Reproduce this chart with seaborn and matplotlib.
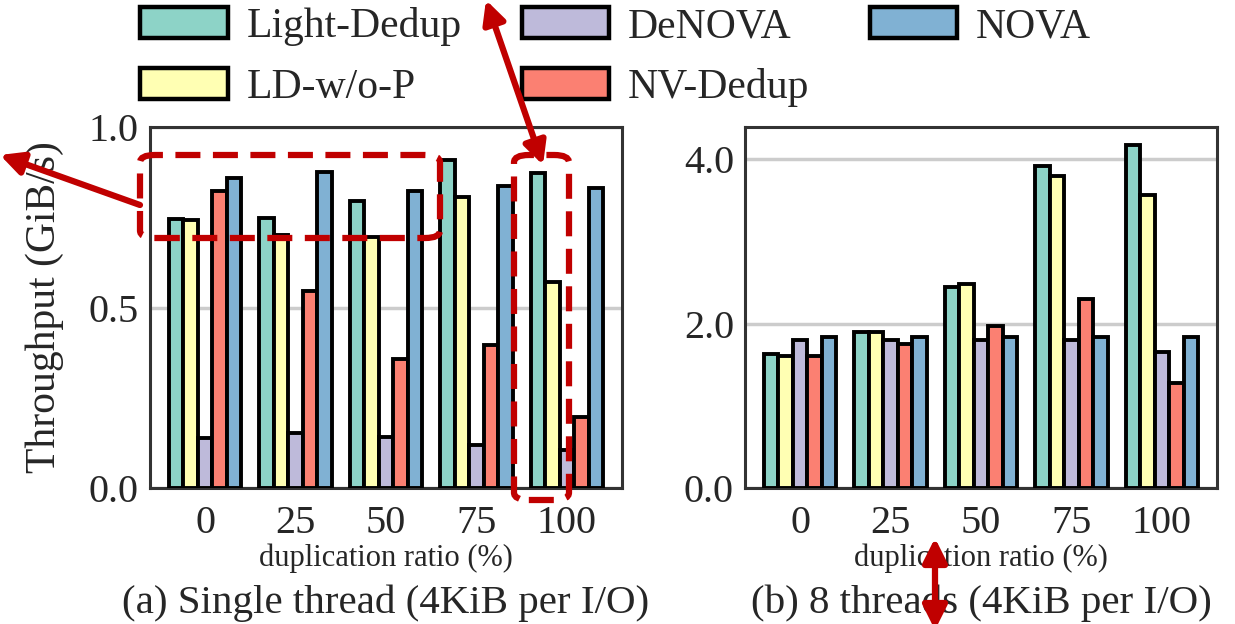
import matplotlib
matplotlib.use("Agg")
import matplotlib.pyplot as plt
import seaborn as sns
import pandas as pd
from matplotlib.patches import FancyBboxPatch, FancyArrowPatch, Patch

# ---- data ----
ratios = ["0", "25", "50", "75", "100"]
systems = ["Light-Dedup", "LD-w/o-P", "DeNOVA", "NV-Dedup", "NOVA"]
colors = ["#8dd3c7", "#ffffb3", "#bebada", "#fb8072", "#80b1d3"]

single_light_dedup = [0.745, 0.748, 0.796, 0.909, 0.873]
single_ld_wo_p = [0.742, 0.700, 0.695, 0.807, 0.572]
single_denova = [0.139, 0.152, 0.141, 0.119, 0.105]
single_nv_dedup = [0.823, 0.546, 0.356, 0.395, 0.196]
single_nova = [0.859, 0.875, 0.823, 0.837, 0.830]

multi_light_dedup = [1.63, 1.90, 2.44, 3.91, 4.17]
multi_ld_wo_p = [1.61, 1.90, 2.48, 3.80, 3.56]
multi_denova = [1.80, 1.80, 1.80, 1.80, 1.65]
multi_nv_dedup = [1.61, 1.75, 1.97, 2.30, 1.28]
multi_nova = [1.84, 1.84, 1.84, 1.84, 1.84]

left_ticks = [0.0, 0.5, 1.0]
right_ticks = [0.0, 2.0, 4.0]


def long_df(series):
    rows = []
    for name, vals in zip(systems, series):
        for r, v in zip(ratios, vals):
            rows.append({"ratio": r, "system": name, "value": v})
    return pd.DataFrame(rows)


df_single = long_df([single_light_dedup, single_ld_wo_p, single_denova,
                     single_nv_dedup, single_nova])
df_multi = long_df([multi_light_dedup, multi_ld_wo_p, multi_denova,
                    multi_nv_dedup, multi_nova])

sns.set_theme(style="white")
plt.rcParams["font.family"] = ["Liberation Serif", "DejaVu Serif"]
plt.rcParams["text.color"] = "#262626"
plt.rcParams["axes.labelcolor"] = "#262626"
plt.rcParams["xtick.color"] = "#262626"
plt.rcParams["ytick.color"] = "#262626"

W, H = 1235, 624
fig = plt.figure(figsize=(W / 100, H / 100), dpi=100)


def fx(x):
    return x / W


def fy(y):
    return 1 - y / H


ax1 = fig.add_axes([fx(150), fy(488), fx(622) - fx(150), fy(127) - fy(488)])
ax2 = fig.add_axes([fx(745), fy(488), fx(1217) - fx(745), fy(127) - fy(488)])

palette = dict(zip(systems, colors))
for ax, df, ylim, yt, cap in [
    (ax1, df_single, 1.0, left_ticks, "(a) Single thread (4KiB per I/O)"),
    (ax2, df_multi, 4.39, right_ticks, "(b) 8 threads (4KiB per I/O)"),
]:
    sns.barplot(data=df, x="ratio", y="value", hue="system", order=ratios,
                hue_order=systems, palette=palette, edgecolor="black",
                linewidth=2.8, width=0.8, saturation=1, ax=ax, legend=False,
                zorder=3)
    ax.set_xlim(-0.61, 4.61)
    ax.set_ylim(0, ylim)
    ax.set_yticks(yt)
    ax.set_yticklabels([f"{t:.1f}" for t in yt])
    ax.yaxis.grid(True, color="#cccccc", linewidth=2.5, zorder=0)
    ax.set_axisbelow(True)
    ax.tick_params(axis="both", labelsize=29, length=0, pad=8)
    ax.tick_params(axis="x", pad=12)
    for s in ax.spines.values():
        s.set_color("#333333")
        s.set_linewidth(2.2)
    ax.set_xlabel("duplication ratio (%)", fontsize=22, labelpad=1)
    ax.set_ylabel("")
    ax.text(0.5, (488 - 603) / 361, cap, transform=ax.transAxes,
            ha="center", va="center", fontsize=29.5)

ax1.set_ylabel("Throughput (GiB/s)", fontsize=30, labelpad=18)

handles = [Patch(facecolor=c, edgecolor="black", linewidth=3.2, label=s)
           for s, c in zip(systems, colors)]
fig.legend(handles=handles, loc="upper left", ncol=3,
           bbox_to_anchor=(fx(140), fy(7)), frameon=False, fontsize=30,
           handlelength=2.1, handleheight=0.78, handletextpad=0.45,
           columnspacing=1.45, labelspacing=0.52, borderpad=0,
           borderaxespad=0)

# ---- red annotation overlay ----
red = "#c00000"
for (x0, y0, x1, y1) in [(140, 155, 440, 238), (514, 155, 569, 500)]:
    box = FancyBboxPatch((fx(x0), fy(y1)), fx(x1) - fx(x0), fy(y0) - fy(y1),
                         boxstyle="round,pad=0,rounding_size=0.012",
                         transform=fig.transFigure, fill=False,
                         edgecolor=red, linewidth=4.5, linestyle=(0, (4, 2)),
                         zorder=10)
    fig.add_artist(box)

arrows = [
    ((140, 205), (0, 155), "-|>", 34),
    ((543, 165), (486, 0), "<|-|>", 34),
    ((935, 630), (935, 538), "<|-|>", 36),
]
for (a, b, style, ms) in arrows:
    arr = FancyArrowPatch((fx(a[0]), fy(a[1])), (fx(b[0]), fy(b[1])),
                          transform=fig.transFigure, arrowstyle=style,
                          mutation_scale=ms, color=red, linewidth=4.5,
                          zorder=11, shrinkA=0, shrinkB=0)
    fig.add_artist(arr)

fig.savefig("out.png", dpi=100)
